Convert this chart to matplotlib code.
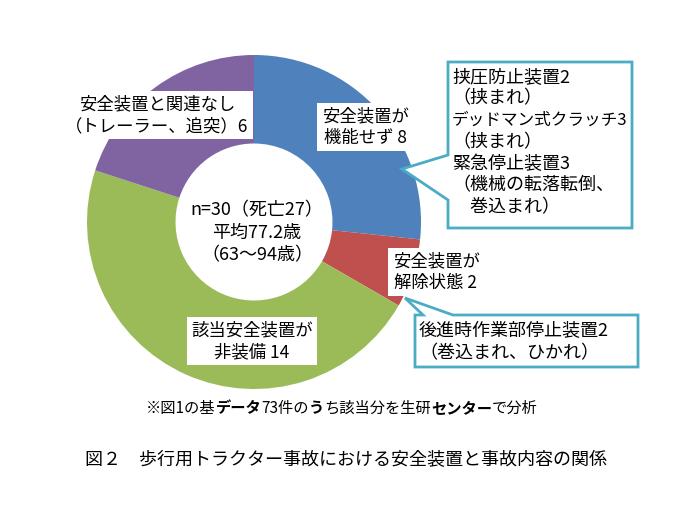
import matplotlib
matplotlib.use("Agg")
import matplotlib.pyplot as plt
from matplotlib.patches import Polygon

plt.rcParams['font.family'] = ['Noto Sans CJK JP', 'DejaVu Sans']

# ---- data ----
categories = ["安全装置が\n機能せず 8", "安全装置が\n解除状態 2",
              "該当安全装置が\n非装備 14", "安全装置と関連なし\n（トレーラー、追突）6"]
values = [8, 2, 14, 6]
colors = ["#4F81BD", "#C0504D", "#9BBB59", "#8064A2"]
center_text = ["n=30（死亡27）", "平均77.2歳", "（63～94歳）"]
callout1_lines = ["挟圧防止装置2", "（挟まれ）", "デッドマン式クラッチ3", "（挟まれ）",
                  "緊急停止装置3", "（機械の転落転倒、", "　巻込まれ）"]
callout2_lines = ["後進時作業部停止装置2", "（巻込まれ、ひかれ）"]
footnote_parts = [("※図1の基", "normal"), ("データ", "bold"), ("73件の", "normal"),
                  ("う", "bold"), ("ち該当分を生研", "normal"), ("センター", "bold"),
                  ("で分析", "normal")]
title = "図２　歩行用トラクター事故における安全装置と事故内容の関係"

W, H = 690, 522
fig = plt.figure(figsize=(W / 100, H / 100), dpi=100)
ax = fig.add_axes([0, 0, 1, 1])

def Y(y):
    return H - y

cx, cy, R = 254, 222, 167
ax.pie(values, colors=colors, startangle=90, counterclock=False,
       center=(cx, Y(cy)), radius=R,
       wedgeprops=dict(width=R * 0.53, linewidth=0))
ax.set_xlim(0, W)
ax.set_ylim(0, H)
ax.set_aspect('equal')
ax.axis('off')

fs = 12.5
box = dict(boxstyle="square,pad=0.25", fc="white", ec="none")

# slice labels
label_pos = [(365, 127), (436, 272), (252, 341), (157, 115)]
for (lx, ly), txt in zip(label_pos, categories):
    ax.text(lx, Y(ly), txt, ha="center", va="center", fontsize=fs,
            linespacing=1.3, bbox=box, zorder=5)

# center text
for i, t in enumerate(center_text):
    ax.text(257, Y(210 + 22.5 * i), t, ha="center", va="center", fontsize=13, zorder=5)

teal = "#4BACC6"
# callout 1
poly1 = [(448, 62), (632, 62), (632, 228), (448, 228), (448, 200), (402, 169), (448, 155)]
ax.add_patch(Polygon([(x, Y(y)) for x, y in poly1], closed=True, fc="white",
                     ec=teal, lw=2, zorder=6))
for i, t in enumerate(callout1_lines):
    size = 12 if i == 2 else 13
    ax.text(452, Y(77 + 21.7 * i), t, ha="left", va="center", fontsize=size, zorder=7)

# callout 2
poly2 = [(415, 315), (423, 315), (405, 298), (453, 315), (638, 315), (638, 367), (415, 367)]
ax.add_patch(Polygon([(x, Y(y)) for x, y in poly2], closed=True, fc="white",
                     ec=teal, lw=2, zorder=6))
for i, t in enumerate(callout2_lines):
    ax.text(419, Y(330 + 23 * i), t, ha="left", va="center", fontsize=13, zorder=7)

# footnote with mixed weights, centred
renderer = fig.canvas.get_renderer()
texts = []
for s, wgt in footnote_parts:
    t = ax.text(0, Y(408), s, ha="left", va="center", fontsize=11, fontweight=wgt)
    texts.append(t)
widths = [t.get_window_extent(renderer).width for t in texts]
x = 342 - sum(widths) / 2
for t, w in zip(texts, widths):
    t.set_x(x)
    x += w

ax.text(346, Y(460), title, ha="center", va="center", fontsize=13)

fig.savefig("out.png", dpi=100)
